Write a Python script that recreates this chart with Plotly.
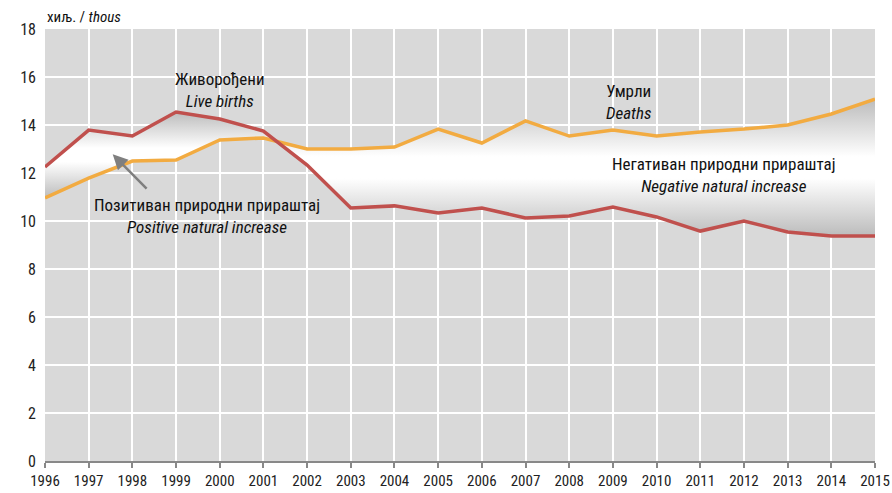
import plotly.graph_objects as go

years = list(range(1996, 2016))
births = [12.25, 13.79, 13.54, 14.54, 14.25, 13.75, 12.33, 10.54, 10.63, 10.33,
          10.54, 10.13, 10.21, 10.58, 10.17, 9.58, 10.0, 9.54, 9.38, 9.38]
deaths = [10.96, 11.79, 12.5, 12.54, 13.38, 13.46, 13.0, 13.0, 13.08, 13.83,
          13.25, 14.17, 13.54, 13.79, 13.54, 13.71, 13.83, 14.0, 14.46, 15.08]

RED = "#c0504d"
ORANGE = "#f2ab41"
FONT = "Liberation Sans Narrow, Roboto Condensed, DejaVu Sans Condensed, Arial Narrow, sans-serif"

# crossing point between 2001 and 2002 (computed from data)
i = years.index(2001)
d0 = births[i] - deaths[i]
d1 = births[i + 1] - deaths[i + 1]
t = d0 / (d0 - d1)
xc = years[i] + t
yc = births[i] + t * (births[i + 1] - births[i])

fig = go.Figure()

grad = dict(type="vertical",
            colorscale=[[0, "#bcbcbc"], [0.42, "#ffffff"], [0.58, "#ffffff"], [1, "#bcbcbc"]])

# positive natural increase region
px = years[:i + 1] + [xc] + years[:i + 1][::-1]
py = births[:i + 1] + [yc] + deaths[:i + 1][::-1]
fig.add_trace(go.Scatter(x=px, y=py, mode="lines", line=dict(width=0),
                         fill="toself", fillgradient=grad, hoverinfo="skip",
                         showlegend=False))
# negative natural increase region
nx = [xc] + years[i + 1:] + years[i + 1:][::-1]
ny = [yc] + deaths[i + 1:] + births[i + 1:][::-1]
fig.add_trace(go.Scatter(x=nx, y=ny, mode="lines", line=dict(width=0),
                         fill="toself", fillgradient=grad, hoverinfo="skip",
                         showlegend=False))

fig.add_trace(go.Scatter(x=years, y=deaths, mode="lines",
                         line=dict(color=ORANGE, width=3.5), showlegend=False))
fig.add_trace(go.Scatter(x=years, y=births, mode="lines",
                         line=dict(color=RED, width=3.5), showlegend=False))

def label(x, y, top, bottom):
    fig.add_annotation(x=x, y=y, text=f"{top}<br><i>{bottom}</i>", showarrow=False,
                       font=dict(family=FONT, size=17, color="#111"),
                       align="center", xanchor="center", yanchor="middle")

label(2000.0, 15.47, "Живорођени", "Live births")
label(2009.35, 14.97, "Умрли", "Deaths")
label(2011.55, 11.9, "Негативан природни прираштај", "Negative natural increase")
label(1999.7, 10.2, "Позитиван природни прираштај", "Positive natural increase")

# arrow
fig.add_annotation(x=1997.55, y=12.78, ax=1998.36, ay=11.29, axref="x", ayref="y",
                   xref="x", yref="y", text="", showarrow=True, arrowhead=2,
                   arrowsize=1.2, arrowwidth=2.5, arrowcolor="#7f7f7f")

fig.add_annotation(x=0, y=1, xref="paper", yref="paper", xanchor="left",
                   yanchor="bottom", yshift=1, showarrow=False,
                   text="хиљ. / <i>thous</i>",
                   font=dict(family=FONT, size=15, color="#111"))

fig.update_layout(
    width=892, height=493,
    margin=dict(l=45, r=17, t=29, b=32),
    plot_bgcolor="#d9d9d9", paper_bgcolor="white",
    font=dict(family=FONT, size=16, color="#222"),
)
fig.update_xaxes(range=[1996, 2015], tickmode="array", tickvals=years,
                 tickfont=dict(size=15),
                 showgrid=True, gridcolor="white", gridwidth=1.5,
                 showline=True, linecolor="#888", linewidth=2,
                 ticks="outside", ticklen=5, tickcolor="#888", tickwidth=1.5,
                 zeroline=False, fixedrange=True, automargin=False)
fig.update_yaxes(range=[0, 18], dtick=2, showgrid=True, gridcolor="white",
                 gridwidth=1.5, zeroline=False, showline=False, ticks="",
                 ticklabelstandoff=8,
                 fixedrange=True, automargin=False)

fig.write_html("out.html", config={"displayModeBar": False},
               post_script="document.body.style.margin='0';document.body.style.overflow='hidden';")
